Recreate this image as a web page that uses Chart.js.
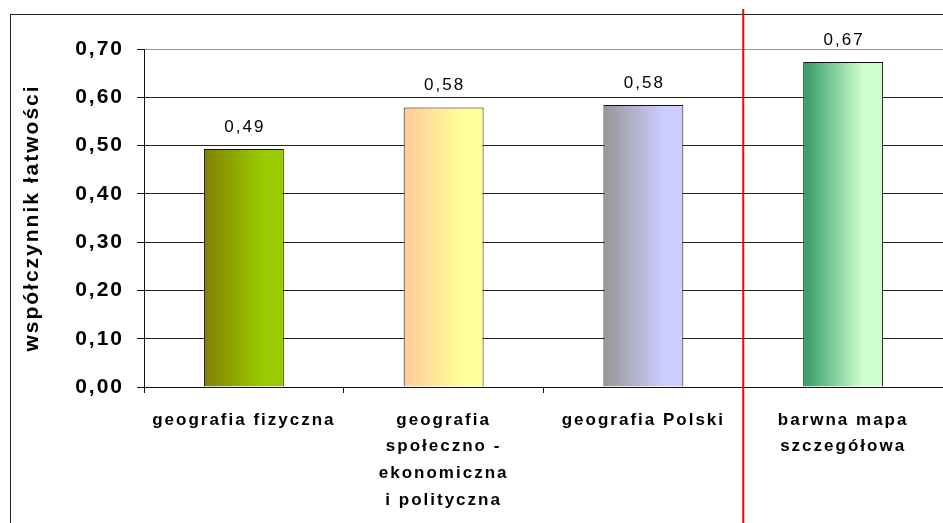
<!DOCTYPE html>
<html lang="pl">
<head>
<meta charset="utf-8">
<title>Współczynnik łatwości</title>
<script src="https://cdn.jsdelivr.net/npm/chart.js@4.4.1/dist/chart.umd.min.js"></script>
<style>
  html, body { margin: 0; padding: 0; background: #fff; }
  #wrap { width: 943px; height: 523px; }
</style>
</head>
<body>
<div id="wrap"><canvas id="chartLatwosc"></canvas></div>
<script>
// Współczynnik łatwości zadań: działy geografii i barwna mapa szczegółowa

const kategorie = [
    ['geografia fizyczna'],
    ['geografia', 'społeczno -', 'ekonomiczna', 'i polityczna'],
    ['geografia Polski'],
    ['barwna mapa', 'szczegółowa'],
];
const wartosci = [0.493, 0.579, 0.584, 0.673];
const osYMin = 0;
const osYMax = 0.7;
const osYKrok = 0.1;

// kolory gradientu słupków: [lewa krawędź, prawa krawędź]
const gradienty = [
    ['#808000', '#99cc00'],
    ['#ffcc99', '#ffff99'],
    ['#969696', '#ccccff'],
    ['#339966', '#ccffcc'],
];

const FONT = "'Liberation Sans', Arial, sans-serif";
const fmt = v => v.toFixed(2).replace('.', ',');

function gradientSlupka(ctx) {
    const chart = ctx.chart;
    const area = chart.chartArea;
    const kolory = gradienty[(ctx.dataIndex || 0) % gradienty.length];
    if (!area || ctx.type !== 'data') return kolory[1];
    const x = chart.scales.x.getPixelForValue(ctx.dataIndex);
    const w = area.width / kategorie.length * 0.4;
    const g = chart.ctx.createLinearGradient(x - w / 2, 0, x + w / 2, 0);
    g.addColorStop(0, kolory[0]);
    g.addColorStop(0.75, kolory[1]);
    g.addColorStop(1, kolory[1]);
    return g;
}

// szerokie odstępy między literami jak w wykresie z Excela
const odstepLiter = {
    id: 'odstepLiter',
    beforeLayout(chart) { chart.ctx.letterSpacing = '2px'; },
    beforeDraw(chart) { chart.ctx.letterSpacing = '2px'; },
};

// wartości nad słupkami
const etykietyWartosci = {
    id: 'etykietyWartosci',
    afterDatasetsDraw(chart) {
        const { ctx } = chart;
        const meta = chart.getDatasetMeta(0);
        ctx.save();
        ctx.font = '17px ' + FONT;
        ctx.fillStyle = '#000';
        ctx.textAlign = 'center';
        ctx.textBaseline = 'middle';
        meta.data.forEach((bar, i) => {
            ctx.fillText(fmt(wartosci[i]), bar.x + 1, bar.y - 22);
        });
        ctx.restore();
    }
};

// ramka wykresu i czerwona linia oddzielająca mapę od działów
const ramkaIPodzial = {
    id: 'ramkaIPodzial',
    afterDraw(chart) {
        const { ctx, scales: { x } } = chart;
        ctx.save();
        ctx.strokeStyle = '#222';
        ctx.lineWidth = 1;
        ctx.strokeRect(10.5, 14.5, chart.width + 20, chart.height + 20);
        const xPodzial = (x.getPixelForValue(2) + x.getPixelForValue(3)) / 2;
        ctx.strokeStyle = '#ff0000';
        ctx.lineWidth = 2;
        ctx.beginPath();
        ctx.moveTo(xPodzial, 9);
        ctx.lineTo(xPodzial, chart.height);
        ctx.stroke();
        ctx.restore();
    }
};

new Chart(document.getElementById('chartLatwosc'), {
    type: 'bar',
    data: {
        labels: kategorie,
        datasets: [{
            data: wartosci,
            backgroundColor: gradientSlupka,
            borderColor: '#111',
            borderWidth: 1,
            barPercentage: 0.5,
            categoryPercentage: 0.8,
        }]
    },
    options: {
        responsive: true,
        maintainAspectRatio: false,
        animation: false,
        layout: { padding: { top: 49, left: 0, right: 0, bottom: 0 } },
        plugins: { legend: { display: false }, tooltip: { enabled: false } },
        scales: {
            x: {
                ticks: {
                    color: '#000', maxRotation: 0, autoSkip: false, padding: 14,
                    font: { family: FONT, size: 17, weight: 'bold', lineHeight: 1.56 }
                },
                grid: { drawOnChartArea: false, tickLength: 6, color: '#111', offset: true },
                border: { color: '#111' },
                afterFit(scale) { scale.height = 136; }
            },
            y: {
                min: osYMin,
                max: osYMax,
                ticks: {
                    stepSize: osYKrok, padding: 13, color: '#000',
                    font: { family: FONT, size: 21, weight: 'bold' },
                    callback: v => fmt(v)
                },
                grid: {
                    color: c => (c.tick && Math.abs(c.tick.value - osYMax) < 1e-9) ? '#9a9a9a' : '#222',
                    tickColor: '#111',
                    tickLength: 7
                },
                border: { color: '#111' },
                title: {
                    display: true, text: 'współczynnik łatwości', color: '#000',
                    font: { family: FONT, size: 21, weight: 'bold' },
                    padding: { top: 20, bottom: 0 }
                },
                afterFit(scale) { scale.width = 144; }
            }
        }
    },
    plugins: [odstepLiter, etykietyWartosci, ramkaIPodzial]
});
</script>
</body>
</html>
